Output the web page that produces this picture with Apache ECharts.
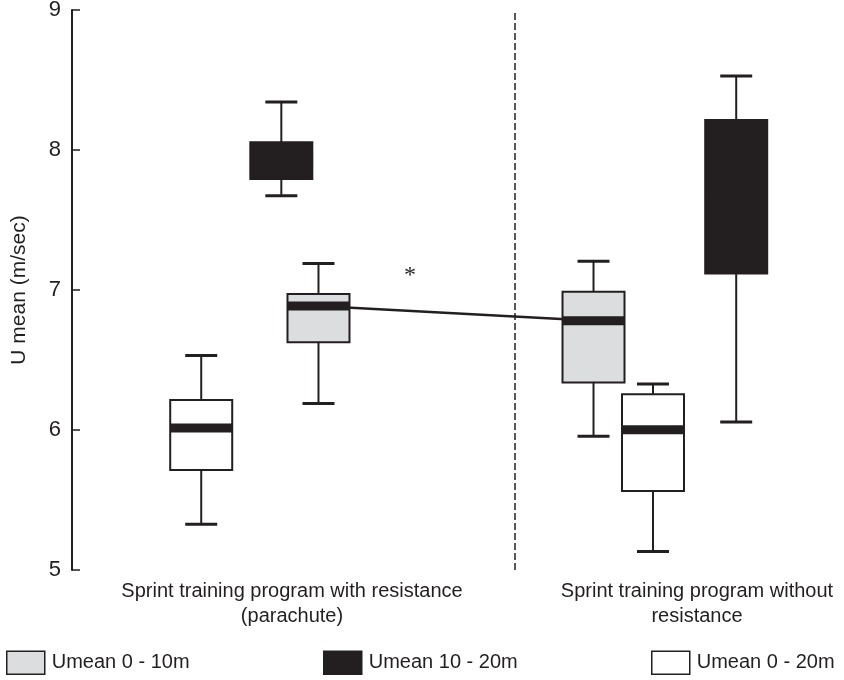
<!DOCTYPE html>
<html>
<head>
<meta charset="utf-8">
<script src="https://cdn.jsdelivr.net/npm/echarts@6/dist/echarts.min.js"></script>
<style>html,body{margin:0;padding:0;background:#fff}#c{width:844px;height:680px}</style>
</head>
<body>
<div id="c"></div>
<script>
const yTicks = [5, 6, 7, 8, 9];
const yName = 'U mean (m/sec)';
const groupLabels = ['Sprint training program with resistance\n(parachute)', 'Sprint training program without\nresistance'];
const groupPos = [5.729, 16.276];
const seriesNames = ['Umean 0 - 10m', 'Umean 10 - 20m', 'Umean 0 - 20m'];
// [min, q1, median, q3, max]
const umean0_10 = [[6.19, 6.626, 6.886, 6.971, 7.19], [5.955, 6.34, 6.78, 6.988, 7.205]];
const umean10_20 = [[7.674, 7.793, 7.92, 8.055, 8.343], [6.057, 7.117, 7.66, 8.214, 8.529]];
const umean0_20 = [[5.326, 5.714, 6.014, 6.214, 6.533], [5.133, 5.564, 6.002, 6.255, 6.329]];
const pos0_10 = [6.419, 13.581];
const pos10_20 = [5.451, 17.297];
const pos0_20 = [3.365, 15.13];
const dividerX = 11.536;
const starPos = [8.802, 7.1];
const starText = '*';

const INK = '#231f20';
const FONT = "'Liberation Sans', Arial, sans-serif";
const fills = ['#dcdddf', INK, '#ffffff'];

function boxRender(params, api) {
  const x = api.value(0);
  const lo = api.coord([x, api.value(1)]);
  const q1 = api.coord([x, api.value(2)]);
  const med = api.coord([x, api.value(3)]);
  const q3 = api.coord([x, api.value(4)]);
  const hi = api.coord([x, api.value(5)]);
  const cx = lo[0];
  const hw = 31, cw = 16;
  const fill = api.visual('color');
  const lineStyle = { stroke: INK, lineWidth: 2 };
  return {
    type: 'group',
    children: [
      { type: 'line', shape: { x1: cx, y1: hi[1], x2: cx, y2: q3[1] }, style: lineStyle },
      { type: 'line', shape: { x1: cx, y1: q1[1], x2: cx, y2: lo[1] }, style: lineStyle },
      { type: 'line', shape: { x1: cx - cw, y1: hi[1], x2: cx + cw, y2: hi[1] }, style: { stroke: INK, lineWidth: 3 } },
      { type: 'line', shape: { x1: cx - cw, y1: lo[1], x2: cx + cw, y2: lo[1] }, style: { stroke: INK, lineWidth: 3 } },
      { type: 'rect', shape: { x: cx - hw, y: q3[1], width: hw * 2, height: q1[1] - q3[1] }, style: { fill: fill, stroke: INK, lineWidth: 2 } },
      { type: 'rect', shape: { x: cx - hw, y: med[1] - 4.5, width: hw * 2, height: 9 }, style: { fill: INK } }
    ]
  };
}

function boxData(pos, vals) {
  return vals.map((v, i) => [pos[i]].concat(v));
}

const chart = echarts.init(document.getElementById('c'));
const legendCommon = {
  bottom: 5, itemWidth: 38, itemHeight: 23, icon: 'rect', itemGap: 0, padding: 0,
  textStyle: { fontFamily: FONT, fontSize: 20, color: INK, padding: [0, 0, 0, 2] },
  selectedMode: false
};
chart.setOption({
  animation: false,
  grid: { left: 72, right: 4, top: 10, bottom: 110, outerBoundsMode: 'none', containLabel: false },
  xAxis: { type: 'value', min: 0, max: 20, show: false },
  yAxis: {
    type: 'value', min: yTicks[0], max: yTicks[yTicks.length - 1], interval: 1,
    name: yName, nameLocation: 'middle', nameGap: 42,
    nameTextStyle: { fontFamily: FONT, fontSize: 21, color: INK },
    axisLine: { show: true, lineStyle: { color: INK, width: 2 } },
    axisTick: { show: true, inside: true, length: 8, lineStyle: { color: INK, width: 1.5 } },
    axisLabel: { fontFamily: FONT, fontSize: 22, color: INK, margin: 11 },
    splitLine: { show: false }
  },
  legend: [
    Object.assign({ left: 6, data: [{ name: seriesNames[0], itemStyle: { color: fills[0], borderColor: INK, borderWidth: 1.5 } }] }, legendCommon),
    Object.assign({ left: 323, data: [{ name: seriesNames[1], itemStyle: { color: fills[1], borderColor: INK, borderWidth: 1.5 } }] }, legendCommon),
    Object.assign({ left: 651, data: [{ name: seriesNames[2], itemStyle: { color: fills[2], borderColor: INK, borderWidth: 1.5 } }] }, legendCommon)
  ],
  series: [
    {
      type: 'line', name: 'link', data: [[pos0_10[0], umean0_10[0][2]], [pos0_10[1], umean0_10[1][2]]],
      symbol: 'none', lineStyle: { color: INK, width: 2.5 }, z: 1,
      markLine: {
        silent: true, symbol: 'none', label: { show: false },
        lineStyle: { color: INK, type: [7, 3], width: 1.5 },
        data: [[{ coord: [dividerX, yTicks[0]] }, { coord: [dividerX, yTicks[yTicks.length - 1]] }]]
      }
    },
    { type: 'custom', name: seriesNames[0], renderItem: boxRender, itemStyle: { color: fills[0] }, data: boxData(pos0_10, umean0_10), encode: { x: 0, y: [1, 2, 3, 4, 5] }, z: 3 },
    { type: 'custom', name: seriesNames[1], renderItem: boxRender, itemStyle: { color: fills[1] }, data: boxData(pos10_20, umean10_20), encode: { x: 0, y: [1, 2, 3, 4, 5] }, z: 3 },
    { type: 'custom', name: seriesNames[2], renderItem: boxRender, itemStyle: { color: fills[2] }, data: boxData(pos0_20, umean0_20), encode: { x: 0, y: [1, 2, 3, 4, 5] }, z: 3 },
    {
      type: 'custom', name: 'labels', silent: true,
      data: groupPos.map((p, i) => [p, yTicks[0], i]),
      renderItem: function (params, api) {
        const c = api.coord([api.value(0), api.value(1)]);
        return {
          type: 'text', x: c[0], y: c[1] + 9,
          style: { text: groupLabels[api.value(2)], fontFamily: FONT, fontSize: 20, fill: INK, align: 'center', verticalAlign: 'top', lineHeight: 25 }
        };
      }
    },
    {
      type: 'custom', name: 'star', silent: true,
      data: [starPos],
      renderItem: function (params, api) {
        const c = api.coord([api.value(0), api.value(1)]);
        return { type: 'text', x: c[0], y: c[1], style: { text: starText, fontFamily: "'Liberation Serif', serif", fontSize: 24, fill: INK, align: 'center', verticalAlign: 'middle' } };
      }
    }
  ]
});
</script>
</body>
</html>
